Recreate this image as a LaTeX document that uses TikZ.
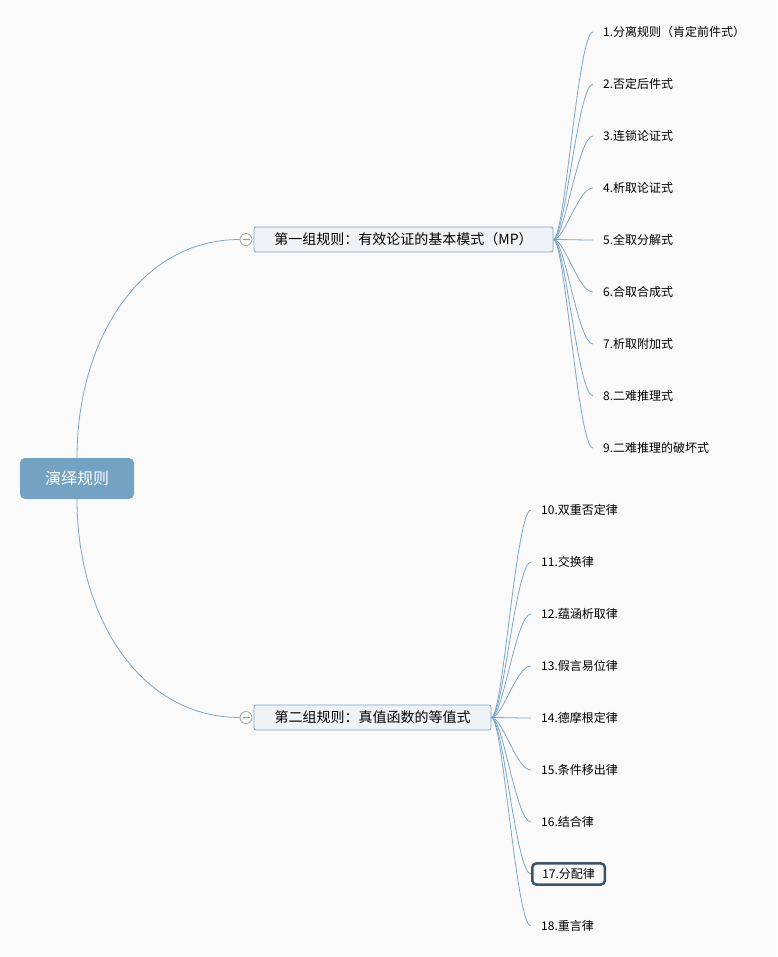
\documentclass[tikz,border=0pt]{standalone}
\usepackage{fontspec}
\setmainfont{Noto Sans CJK SC}
\definecolor{bg}{HTML}{FAFAFA}
\definecolor{rootfill}{HTML}{73A2C2}
\definecolor{linec}{HTML}{7EA6C6}
\definecolor{boxfill}{HTML}{EEF3F7}
\definecolor{boxdraw}{HTML}{7DA4C4}
\definecolor{hl}{HTML}{3D5366}
\begin{document}
\begin{tikzpicture}[x=1pt,y=-1pt,
  rootbox/.style={fill=rootfill,rounded corners=5pt,text=white,minimum width=114pt,minimum height=41pt,inner sep=0pt,font=\fontsize{16}{18}\selectfont},
  branchbox/.style={fill=boxfill,draw=boxdraw,line width=0.8pt,rounded corners=2pt,minimum height=25pt,inner sep=0pt,font=\fontsize{14}{16}\selectfont},
  leaf/.style={anchor=west,inner xsep=10pt,inner ysep=5pt,font=\fontsize{12}{14}\selectfont},
  hlleaf/.style={leaf,draw=hl,line width=2.5pt,rounded corners=4pt},
  collapse/.style={circle,draw=gray!80,fill=white,line width=0.7pt,minimum size=12pt,inner sep=0pt,
    path picture={\draw[gray!80,line width=0.7pt] ([xshift=-3.5pt]path picture bounding box.center) -- ([xshift=3.5pt]path picture bounding box.center);}},
  conn/.style={draw=linec,line width=0.8pt}
]
\fill[bg] (0,0) rectangle (777,957);
\useasboundingbox (0,0) rectangle (777,957);

\node[rootbox] (root) at (77,478.5) {演绎规则};

\node[branchbox,minimum width=299pt] (b1) at (403.5,239.5) {第一组规则：有效论证的基本模式（MP）};
\node[branchbox,minimum width=237pt] (b2) at (372.5,717.5) {第二组规则：真值函数的等值式};

\node[collapse] (c1) at (246,239.5) {};
\node[collapse] (c2) at (246,717.5) {};

\draw[conn] (root.north) .. controls (77,340) and (140,239.5) .. (c1.west);
\draw[conn] (root.south) .. controls (77,617) and (140,717.5) .. (c2.west);

% group 1 leaves
\foreach \i/\y/\t in {1/32/{1.分离规则（肯定前件式）},2/84/{2.否定后件式},3/136/{3.连锁论证式},4/188/{4.析取论证式},5/240/{5.全取分解式},6/292/{6.合取合成式},7/344/{7.析取附加式},8/396/{8.二难推理式},9/448/{9.二难推理的破坏式}}{
  \node[leaf] (l\i) at (593,\y) {\t};
  \draw[conn] (b1.east) .. controls (565,239.5) and (578,\y) .. (l\i.west);
}

% group 2 leaves
\foreach \i/\y/\t in {10/510/{10.双重否定律},11/562/{11.交换律},12/614/{12.蕴涵析取律},13/666/{13.假言易位律},14/718/{14.德摩根定律},15/770/{15.条件移出律},16/822/{16.结合律},18/926/{18.重言律}}{
  \node[leaf] (l\i) at (531,\y) {\t};
  \draw[conn] (b2.east) .. controls (503,717.5) and (516,\y) .. (l\i.west);
}
\node[hlleaf] (l17) at (531,874) {17.分配律};
\draw[conn] (b2.east) .. controls (503,717.5) and (516,874) .. (l17.west);
\end{tikzpicture}
\end{document}
